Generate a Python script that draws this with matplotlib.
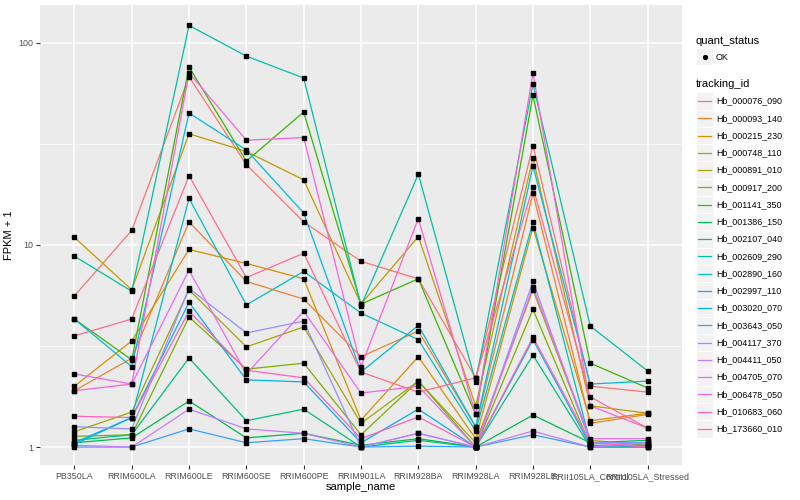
import matplotlib
matplotlib.use("Agg")
import matplotlib.pyplot as plt
import numpy as np
from matplotlib.patches import Rectangle
from matplotlib.lines import Line2D

plt.rcParams['font.family'] = ['Liberation Sans', 'DejaVu Sans']

# muestras (eje x)
samples = ["PB350LA", "RRIM600LA", "RRIM600LE", "RRIM600SE", "RRIM600PE",
           "RRIM901LA", "RRIM928BA", "RRIM928LA", "RRIM928LE",
           "RRII105LA_Control", "RRII105LA_Stressed"]

tracking_ids = ["Hb_000076_090", "Hb_000093_140", "Hb_000215_230", "Hb_000748_110",
                "Hb_000891_010", "Hb_000917_200", "Hb_001141_350", "Hb_001386_150",
                "Hb_002107_040", "Hb_002609_290", "Hb_002890_160", "Hb_002997_110",
                "Hb_003020_070", "Hb_003643_050", "Hb_004117_370", "Hb_004411_050",
                "Hb_004705_070", "Hb_006478_050", "Hb_010683_060", "Hb_173660_010"]

# colores por defecto de ggplot (hue) para 20 niveles
colores = ["#F8766D", "#EA8331", "#D89000", "#C09B00", "#A3A500", "#7CAE00",
           "#39B600", "#00BB4E", "#00BF7D", "#00C1A3", "#00BFC4", "#00BAE0",
           "#00B0F6", "#35A2FF", "#9590FF", "#C77CFF", "#E76BF3", "#FA62DB",
           "#FF62BC", "#FF6C91"]

# FPKM + 1 por gen
hb_000076_090 = [5.6, 11.8, 68, 25, 13, 8.3, 6.8, 2.2, 31, 2.0, 1.87]
hb_000093_140 = [1.9, 2.75, 13, 6.6, 5.4, 2.8, 3.75, 1.26, 18, 1.31, 1.45]
hb_000215_230 = [2.0, 3.35, 9.5, 8.1, 6.8, 1.36, 2.8, 1.1, 12.2, 1.35, 1.47]
hb_000748_110 = [10.9, 6.0, 35.5, 29, 21, 5.1, 11, 1.6, 27, 1.6, 1.47]
hb_000891_010 = [1.19, 1.49, 6.0, 3.13, 3.93, 1.31, 2.12, 1.05, 6.0, 1.08, 1.02]
hb_000917_200 = [1.13, 1.15, 4.4, 2.43, 2.6, 1.15, 2.12, 1.0, 4.8, 1.02, 1.0]
hb_001141_350 = [4.3, 2.7, 76, 26, 45.5, 5.1, 6.8, 1.45, 55, 2.6, 1.96]
hb_001386_150 = [1.05, 1.11, 1.69, 1.11, 1.17, 1.02, 1.1, 1.0, 1.44, 1.05, 1.08]
hb_002107_040 = [1.08, 1.15, 2.76, 1.35, 1.54, 1.0, 1.08, 1.0, 2.85, 1.0, 1.0]
hb_002609_290 = [8.8, 5.9, 122, 86, 67, 5.0, 22.4, 2.1, 62.5, 3.97, 2.38]
hb_002890_160 = [1.03, 1.4, 17, 5.05, 7.4, 4.6, 3.4, 1.2, 13, 1.05, 1.05]
hb_002997_110 = [4.3, 2.5, 45, 29.5, 14.4, 2.35, 4.0, 1.26, 24.6, 2.05, 2.12]
hb_003020_070 = [1.05, 1.4, 5.2, 2.15, 2.1, 1.05, 1.54, 1.0, 3.4, 1.02, 1.02]
hb_003643_050 = [1.0, 1.0, 1.23, 1.05, 1.1, 1.0, 1.01, 1.0, 1.15, 1.0, 1.0]
hb_004117_370 = [1.26, 1.23, 6.1, 3.67, 4.2, 1.0, 1.17, 1.0, 6.6, 1.05, 1.05]
hb_004411_050 = [1.02, 1.0, 1.54, 1.23, 1.17, 1.0, 1.17, 1.0, 1.2, 1.0, 1.05]
hb_004705_070 = [2.3, 2.05, 7.5, 2.3, 4.7, 1.85, 2.0, 1.0, 6.2, 1.1, 1.1]
hb_006478_050 = [1.9, 2.05, 71, 33, 34, 2.5, 13.5, 1.45, 71, 1.6, 1.24]
hb_010683_060 = [1.42, 1.4, 4.7, 2.4, 2.2, 1.1, 1.41, 1.0, 3.5, 1.05, 1.0]
hb_173660_010 = [3.55, 4.3, 22, 6.9, 9.1, 2.35, 1.87, 2.2, 19.4, 1.77, 1.24]

series = [hb_000076_090, hb_000093_140, hb_000215_230, hb_000748_110,
          hb_000891_010, hb_000917_200, hb_001141_350, hb_001386_150,
          hb_002107_040, hb_002609_290, hb_002890_160, hb_002997_110,
          hb_003020_070, hb_003643_050, hb_004117_370, hb_004411_050,
          hb_004705_070, hb_006478_050, hb_010683_060, hb_173660_010]

fig = plt.figure(figsize=(8, 5), dpi=100)
W, H = 800, 500
ax = fig.add_axes([40 / W, 1 - 465 / H, (682 - 40) / W, (465 - 5) / H])
ax.set_facecolor("#EBEBEB")

x = np.arange(len(samples))
for vals, col in zip(series, colores):
    ax.plot(x, vals, color=col, lw=0.9, zorder=3)
for vals in series:
    ax.plot(x, vals, ls="none", marker="s", ms=2.6, color="black", zorder=4)

ax.set_yscale("log")
ax.set_ylim(0.815, 154)
ax.set_xlim(-0.6, len(samples) - 0.4)
ax.set_yticks([1, 10, 100])
ax.set_yticklabels(["1", "10", "100"])
ax.set_yticks([10 ** 0.5, 10 ** 1.5], minor=True)
ax.yaxis.set_minor_formatter(plt.NullFormatter())
ax.set_xticks(x)
ax.set_xticklabels(samples)

ax.grid(True, which="major", color="white", lw=1.1, zorder=1)
ax.grid(True, which="minor", axis="y", color="white", lw=0.5, zorder=1)
ax.set_axisbelow(True)
for s in ax.spines.values():
    s.set_visible(False)
ax.tick_params(which="major", length=3, color="#333333", labelsize=6.4,
               labelcolor="#4D4D4D", pad=2)
ax.tick_params(which="minor", length=0)

ax.set_xlabel("sample_name", fontsize=8, labelpad=1)
ax.set_ylabel("FPKM + 1", fontsize=8, labelpad=3)


# leyenda manual estilo ggplot
def fx(px):
    return px / W


def fy(py):
    return 1 - py / H


fig.text(fx(696), fy(41), "quant_status", fontsize=8, va="center", ha="left")
fig.add_artist(Rectangle((fx(696), fy(65)), 17 / W, 17 / H, transform=fig.transFigure,
                         facecolor="#F2F2F2", edgecolor="white", lw=0.8))
fig.add_artist(Line2D([fx(704.5)], [fy(56.5)], marker="o", ms=2.8, color="black",
                      transform=fig.transFigure))
fig.text(fx(716), fy(57), "OK", fontsize=6.4, va="center", ha="left")

fig.text(fx(696), fy(84), "tracking_id", fontsize=8, va="center", ha="left")
paso = 17.26
for i, (tid, col) in enumerate(zip(tracking_ids, colores)):
    yc = 101 + i * paso
    fig.add_artist(Rectangle((fx(696), fy(yc + paso / 2)), 17 / W, paso / H,
                             transform=fig.transFigure, facecolor="#F2F2F2",
                             edgecolor="white", lw=0.8))
    fig.add_artist(Line2D([fx(698), fx(711)], [fy(yc), fy(yc)], color=col, lw=0.9,
                          transform=fig.transFigure))
    fig.text(fx(716), fy(yc), tid, fontsize=6.4, va="center", ha="left")

fig.savefig("out.png", dpi=100)
